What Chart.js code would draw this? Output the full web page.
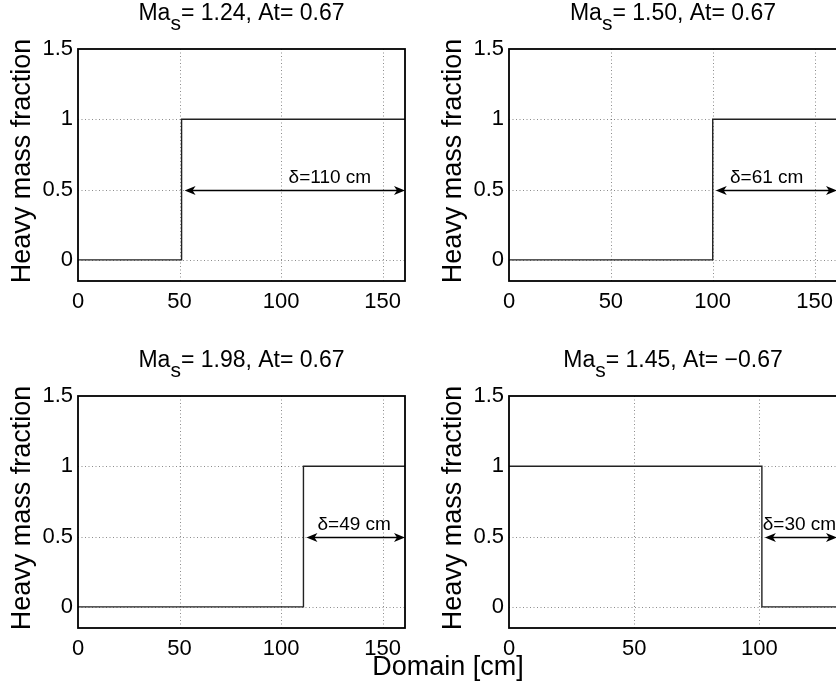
<!DOCTYPE html>
<html>
<head>
<meta charset="utf-8">
<script src="https://cdn.jsdelivr.net/npm/chart.js@4/dist/chart.umd.min.js"></script>
<style>
  html, body { margin: 0; padding: 0; background: #fff; }
  body { position: relative; width: 836px; height: 689px; overflow: hidden; }
  canvas { position: absolute; }
  #xlabel {
    position: absolute; left: 0; top: 653px; width: 896px; text-align: center;
    font: 27px "Liberation Sans", Arial, sans-serif; line-height: 27px; color: #000;
  }
</style>
</head>
<body>
<canvas id="c0" width="418" height="347" style="left:0;top:0"></canvas>
<canvas id="c1" width="440" height="347" style="left:418px;top:0"></canvas>
<canvas id="c2" width="418" height="342" style="left:0;top:347px"></canvas>
<canvas id="c3" width="440" height="342" style="left:418px;top:347px"></canvas>
<div id="xlabel">Domain [cm]</div>
<script>
// Panel data (top-left, top-right, bottom-left, bottom-right)
const machNumbers = ['1.24', '1.50', '1.98', '1.45'];
const atwoodNumbers = ['0.67', '0.67', '0.67', '\u22120.67'];
const stepX = [51, 100, 111, 101];
const levelBefore = [0, 0, 0, 1];
const levelAfter = [1, 1, 1, 0];
const xMax = [161, 161, 161, 131];
const deltaText = ['\u03b4=110 cm', '\u03b4=61 cm', '\u03b4=49 cm', '\u03b4=30 cm'];
const deltaLabelX = [124, 126.5, 136, 116];
const arrowY = 0.5;

// Axis ticks
const xTicks = [0, 50, 100, 150];
const yTicks = [0, 0.5, 1, 1.5];
const yTickLabels = ['0', '0.5', '1', '1.5'];
const yMin = -0.15, yMax = 1.5;

const FONT = '"Liberation Sans", Arial, sans-serif';
const yLabel = 'Heavy mass fraction';

const arrowHead = (ctx, x, y, dir) => {
  ctx.beginPath();
  ctx.moveTo(x, y);
  ctx.lineTo(x - dir * 11, y - 4.5);
  ctx.lineTo(x - dir * 8, y);
  ctx.lineTo(x - dir * 11, y + 4.5);
  ctx.closePath();
  ctx.fill();
};

const panelPlugin = i => ({
  id: 'panel' + i,
  beforeDatasetsDraw(chart) {
    const { ctx, chartArea: a, scales: { x, y } } = chart;
    ctx.save();
    ctx.strokeStyle = 'rgba(0,0,0,0.45)';
    ctx.lineWidth = 1;
    ctx.setLineDash([1, 2.5]);
    xTicks.filter(v => v > 0 && v < xMax[i]).forEach(v => {
      const px = Math.round(x.getPixelForValue(v)) + 0.5;
      ctx.beginPath(); ctx.moveTo(px, a.top); ctx.lineTo(px, a.bottom); ctx.stroke();
    });
    yTicks.filter(v => v < yMax).forEach(v => {
      const py = Math.round(y.getPixelForValue(v)) + 0.5;
      ctx.beginPath(); ctx.moveTo(a.left, py); ctx.lineTo(a.right, py); ctx.stroke();
    });
    ctx.restore();
  },
  afterDatasetsDraw(chart) {
    const { ctx, chartArea: a, scales: { x, y } } = chart;
    ctx.save();
    // axes box
    ctx.strokeStyle = '#000';
    ctx.lineWidth = 1.8;
    ctx.strokeRect(a.left, a.top, a.right - a.left, a.bottom - a.top);
    // double arrow
    const ay = Math.round(y.getPixelForValue(arrowY)) + 0.5;
    const x1 = x.getPixelForValue(stepX[i]) + 3;
    const x2 = x.getPixelForValue(xMax[i]);
    ctx.lineWidth = 1.4;
    ctx.beginPath(); ctx.moveTo(x1 + 6, ay); ctx.lineTo(x2 - 6, ay); ctx.stroke();
    ctx.fillStyle = '#000';
    arrowHead(ctx, x1, ay, -1);
    arrowHead(ctx, x2, ay, 1);
    // delta label
    ctx.font = '19px ' + FONT;
    ctx.textAlign = 'center';
    ctx.textBaseline = 'alphabetic';
    ctx.fillText(deltaText[i], x.getPixelForValue(deltaLabelX[i]), ay - 8);
    ctx.restore();
  },
  afterDraw(chart) {
    const { ctx, chartArea: a } = chart;
    ctx.save();
    ctx.fillStyle = '#000';
    // title with subscript
    ctx.font = '23px ' + FONT;
    ctx.textBaseline = 'alphabetic';
    ctx.textAlign = 'left';
    const p1 = 'Ma', ps = 's', p2 = '= ' + machNumbers[i] + ', At= ' + atwoodNumbers[i];
    const w1 = ctx.measureText(p1).width;
    const w2 = ctx.measureText(p2).width;
    ctx.font = '21px ' + FONT;
    const ws = ctx.measureText(ps).width;
    const cx = (a.left + a.right) / 2;
    const start = cx - (w1 + ws + w2) / 2;
    ctx.font = '23px ' + FONT;
    ctx.fillText(p1, start, a.top - 29);
    ctx.fillText(p2, start + w1 + ws, a.top - 29);
    ctx.font = '21px ' + FONT;
    ctx.fillText(ps, start + w1, a.top - 19);
    // y axis label
    ctx.font = '27px ' + FONT;
    ctx.translate(a.left - 55, (a.top + a.bottom) / 2 - 4);
    ctx.rotate(-Math.PI / 2);
    ctx.textAlign = 'center';
    ctx.textBaseline = 'middle';
    ctx.fillText(yLabel, 0, 0);
    ctx.restore();
  }
});

const makePanel = i => {
  const canvas = document.getElementById('c' + i);
  const right = i % 2 === 1;
  const yWidth = right ? 91 : 78;
  const padRight = right ? 21 : 13;
  const xHeight = canvas.height - 281;
  const data = [
    { x: 0, y: levelBefore[i] },
    { x: stepX[i], y: levelBefore[i] },
    { x: stepX[i], y: levelAfter[i] },
    { x: xMax[i], y: levelAfter[i] }
  ];
  return new Chart(canvas, {
    type: 'scatter',
    data: {
      datasets: [{
        data,
        showLine: true,
        borderColor: '#222',
        borderWidth: 1.4,
        pointRadius: 0,
        fill: false
      }]
    },
    options: {
      responsive: false,
      animation: false,
      events: [],
      layout: { padding: { left: 0, top: 49, right: padRight, bottom: 0 } },
      plugins: { legend: { display: false }, tooltip: { enabled: false } },
      scales: {
        x: {
          type: 'linear',
          min: 0,
          max: xMax[i],
          afterBuildTicks: axis => { axis.ticks = xTicks.filter(v => v <= xMax[i]).map(v => ({ value: v })); },
          afterFit: axis => { axis.height = xHeight; },
          grid: { display: false, drawTicks: false },
          border: { display: false },
          ticks: { color: '#000', padding: 8, maxRotation: 0, autoSkip: false, font: { family: FONT, size: 22 } }
        },
        y: {
          type: 'linear',
          min: yMin,
          max: yMax,
          afterBuildTicks: axis => { axis.ticks = yTicks.map(v => ({ value: v })); },
          afterFit: axis => { axis.width = yWidth; },
          grid: { display: false, drawTicks: false },
          border: { display: false },
          ticks: {
            color: '#000', padding: 5, autoSkip: false,
            font: { family: FONT, size: 22 },
            callback: v => yTickLabels[yTicks.indexOf(v)]
          }
        }
      }
    },
    plugins: [panelPlugin(i)]
  });
};

[0, 1, 2, 3].forEach(makePanel);
</script>
</body>
</html>
